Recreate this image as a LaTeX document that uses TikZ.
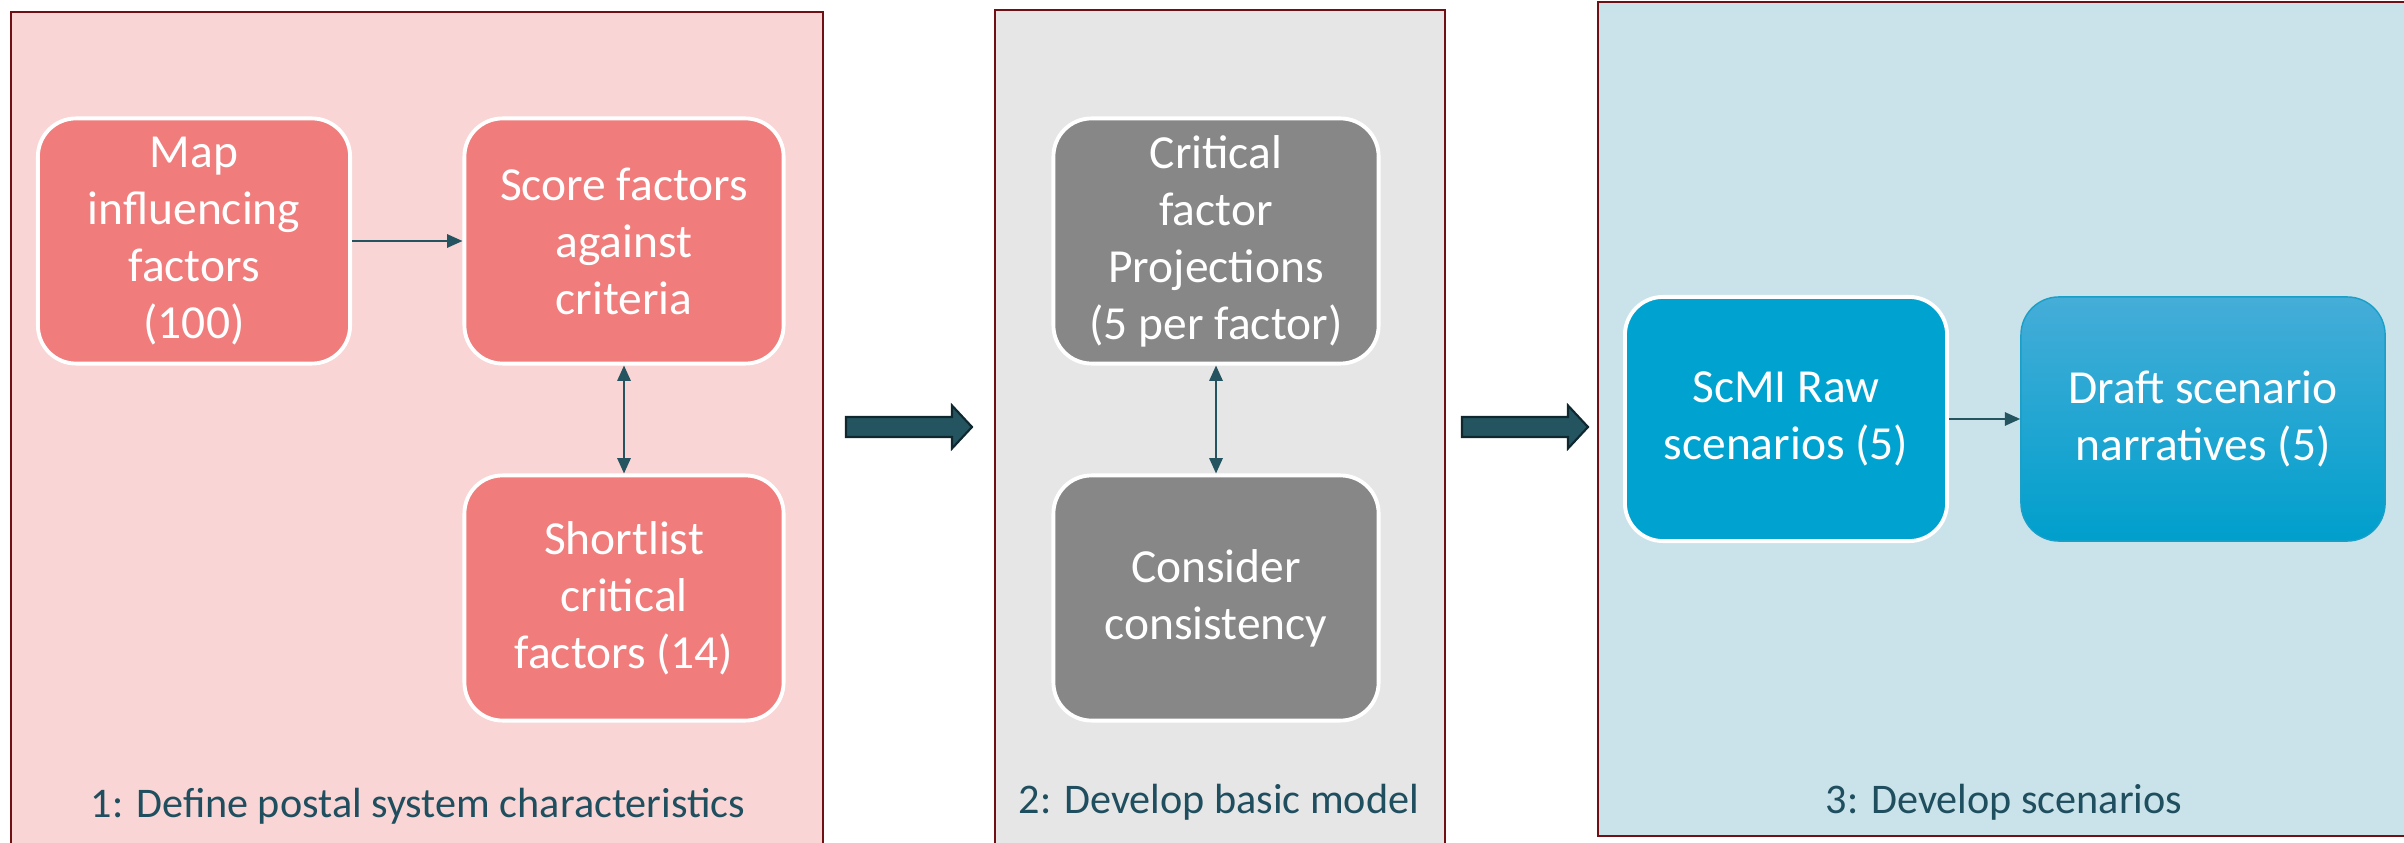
\documentclass[tikz,border=0pt]{standalone}
\usepackage{fontspec}
\setmainfont{Carlito}
\usetikzlibrary{arrows.meta,calc,positioning}
\definecolor{framered}{RGB}{112,16,20}
\definecolor{panelpink}{RGB}{249,213,213}
\definecolor{boxpink}{RGB}{240,124,124}
\definecolor{panelgray}{RGB}{230,230,230}
\definecolor{boxgray}{RGB}{135,135,135}
\definecolor{panelblue}{RGB}{202,227,234}
\definecolor{boxblue}{RGB}{0,163,208}
\definecolor{drafttop}{RGB}{69,173,216}
\definecolor{draftbot}{RGB}{0,159,204}
\definecolor{draftedge}{RGB}{26,159,200}
\definecolor{inkteal}{RGB}{35,84,96}
\definecolor{arrowedge}{RGB}{15,40,48}
\definecolor{labelteal}{RGB}{31,78,95}

\begin{document}
\begin{tikzpicture}[
  x=.01cm,y=.01cm,
  panel/.style={draw=framered,line width=.75pt},
  stepbox/.style={rounded corners=.38cm,draw=white,line width=1.1pt,
                  text=white,align=center,inner sep=2pt,
                  font=\fontsize{13.5}{16.2}\selectfont},
  pinkbox/.style={stepbox,fill=boxpink,minimum height=2.45cm},
  graybox/.style={stepbox,fill=boxgray,minimum width=3.25cm,minimum height=2.45cm},
  bluebox/.style={stepbox,fill=boxblue,minimum height=2.44cm},
  draftbox/.style={stepbox,draw=draftedge,line width=.4pt,
                   top color=drafttop,bottom color=draftbot,minimum height=2.44cm},
  link/.style={-{Triangle[length=4.4pt,width=3.8pt]},draw=inkteal,line width=.6pt},
  twoway/.style={{Triangle[length=4.4pt,width=3.8pt]}-{Triangle[length=4.4pt,width=3.8pt]},
                 draw=inkteal,line width=.6pt},
  bigarrow/.style={fill=inkteal,draw=arrowedge,line width=.6pt,line join=miter},
  panellabel/.style={text=labelteal,font=\fontsize{12}{14}\selectfont}
]
\useasboundingbox (0,0) rectangle (2404,842);
\clip (0,0) rectangle (2404,842);

% Panels.
\fill[panelpink] (11,-5) rectangle (823,830);
\draw[panel] (11,-5) -- (11,830) -- (823,830) -- (823,-5);
\fill[panelgray] (995,-5) rectangle (1445,832);
\draw[panel] (995,-5) -- (995,832) -- (1445,832) -- (1445,-5);
\fill[panelblue] (1598,6) rectangle (2410,840);
\draw[panel] (2410,6) -- (1598,6) -- (1598,840) -- (2410,840);

% Panel 1: define postal system characteristics.
\node[pinkbox,minimum width=3.12cm] (map) at (194,601)
  {Map\\influencing\\factors\\(100)};
\node[pinkbox,minimum width=3.19cm] (score) at (624,601)
  {Score factors\\against\\criteria};
\node[pinkbox,minimum width=3.19cm] (short) at (624,244)
  {Shortlist\\critical\\factors (14)};
\draw[link] (map) -- (score);
\draw[twoway] (score) -- (short);
\node[panellabel] (lab1) at (418,36) {1: Define postal system characteristics};

% Panel 2: basic model.
\node[graybox] (proj) at (1216,601)
  {Critical\\factor\\Projections\\(5 per factor)};
\node[graybox] (cons) at (1216,244)
  {Consider\\consistency};
\draw[twoway] (proj) -- (cons);
\node[panellabel] (lab2) at (1219,40) {2: Develop basic model};

% Panel 3: scenarios.
\node[bluebox,minimum width=3.22cm] (raw) at (1786,423)
  {ScMI Raw\\scenarios (5)};
\node[draftbox,minimum width=3.64cm] (draft) at (2203,423)
  {Draft scenario\\narratives (5)};
\draw[link] (raw) -- (draft);
\node[panellabel] (lab3) at (2004,40) {3: Develop scenarios};

% Block arrows between the panels.
\coordinate (gap1) at (846,415);
\coordinate (gap2) at (1462,415);
\foreach \g in {gap1,gap2}{
  \draw[bigarrow] (\g) ++(0,10) -- ++(106,0) -- ++(0,11.5) -- ++(20,-21.5)
    -- ++(-20,-21.5) -- ++(0,11.5) -- ++(-106,0) -- cycle;
}
\end{tikzpicture}
\end{document}
